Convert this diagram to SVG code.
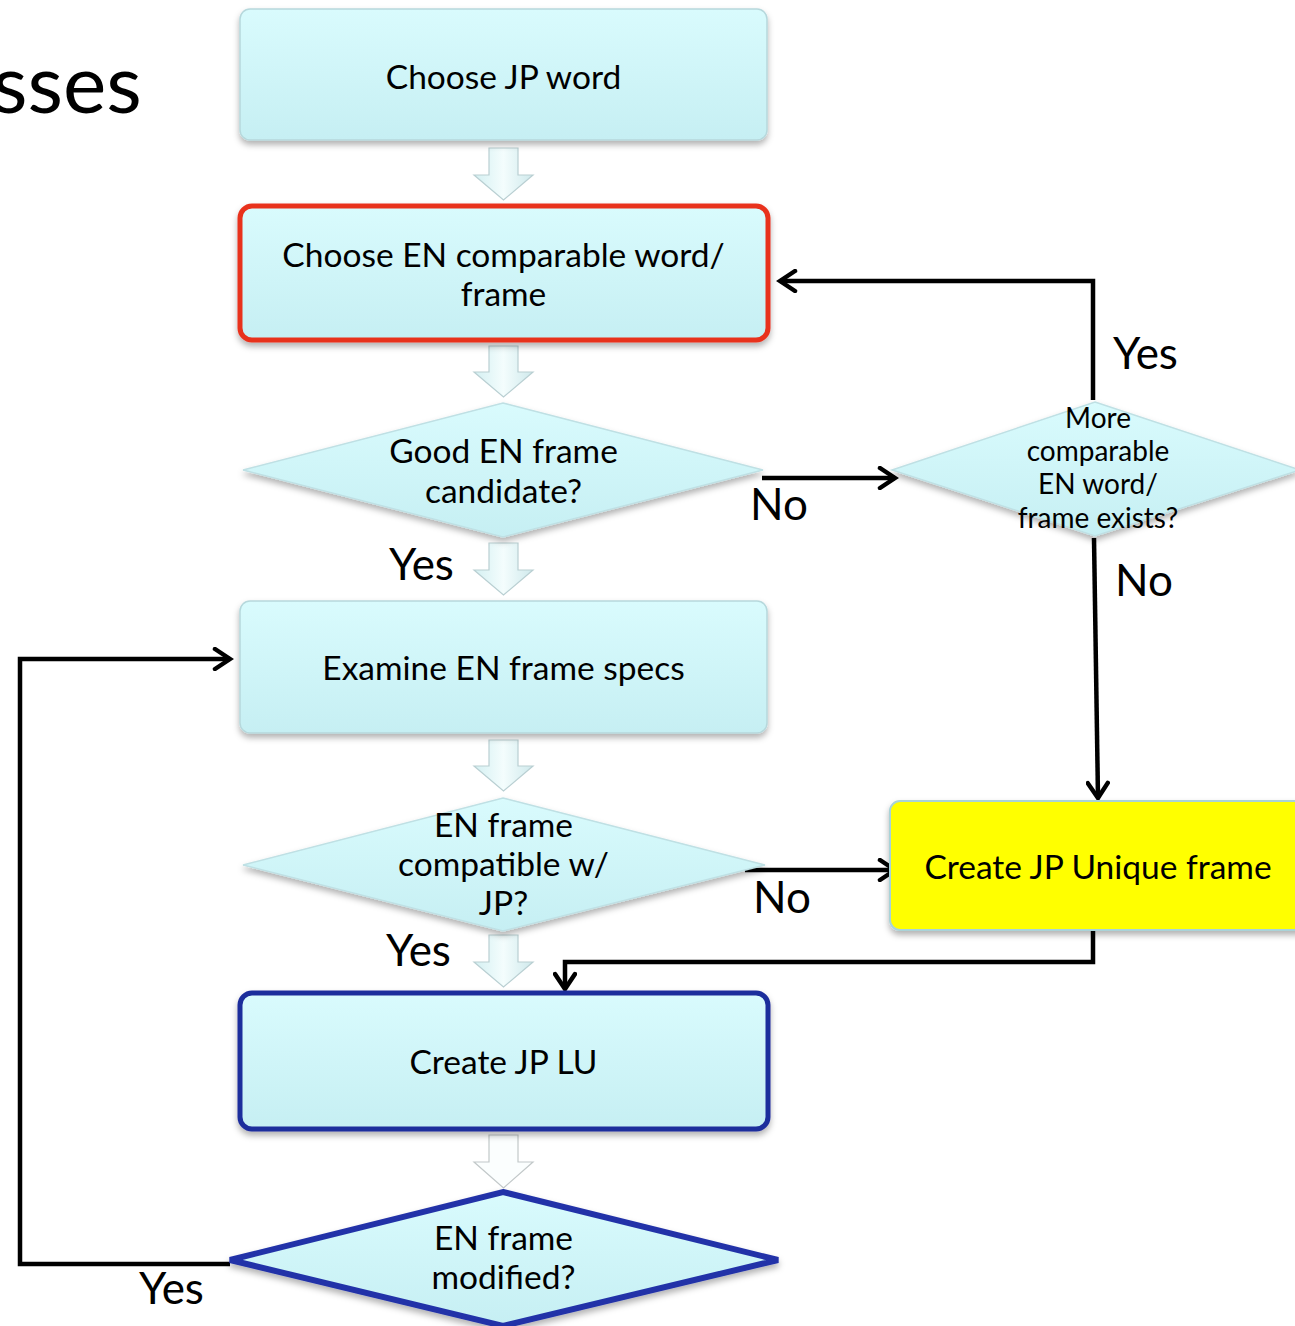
<svg xmlns="http://www.w3.org/2000/svg" width="1295" height="1326" viewBox="0 0 1295 1326">
<style>
.t{font-family:Lato,"Liberation Sans",sans-serif;font-size:33.5px;fill:#000;text-anchor:middle}
.s{font-family:Lato,"Liberation Sans",sans-serif;font-size:28px;fill:#000;text-anchor:middle}
.lbl{font-family:Lato,"Liberation Sans",sans-serif;font-size:44px;fill:#000}
.box{fill:url(#cy);stroke:#b6d8dc;stroke-width:1.5;filter:url(#sh)}
.dia{fill:url(#cy);stroke:#bfe0e4;stroke-width:1.5;filter:url(#sh)}
.ba{fill:url(#ag);stroke:#b9cfd2;stroke-width:1.2}
.con{fill:none;stroke:#000;stroke-width:4.5}
</style>
<defs>
<linearGradient id="cy" x1="0" y1="0" x2="0" y2="1"><stop offset="0" stop-color="#d9fbfd"/><stop offset="1" stop-color="#c6eff3"/></linearGradient>
<linearGradient id="ag" x1="0" y1="0" x2="1" y2="0"><stop offset="0" stop-color="#d4f0f2"/><stop offset="0.5" stop-color="#f4fdfd"/><stop offset="1" stop-color="#cfe9ec"/></linearGradient>
<filter id="sh" x="-10%" y="-10%" width="120%" height="130%"><feDropShadow dx="0" dy="4" stdDeviation="3" flood-color="#000" flood-opacity="0.3"/></filter>
<marker id="ar" markerWidth="22" markerHeight="24" refX="18" refY="12" orient="auto" markerUnits="userSpaceOnUse"><path d="M3,2 L18,12 L3,22" fill="none" stroke="#000" stroke-width="4.5" stroke-linecap="round"/></marker>
</defs>

<text x="-8" y="113" class="lbl" style="font-size:82px">sses</text>

<g id="connectors">
<path class="con" d="M1093,400 V281 H780" marker-end="url(#ar)"/>
<path class="con" d="M762,478 H895" marker-end="url(#ar)"/>
<path class="con" d="M1094,538 L1098,798" marker-end="url(#ar)"/>
<path class="con" d="M745,870 H895" marker-end="url(#ar)"/>
<path class="con" d="M1093,930 V962 H565 V989" marker-end="url(#ar)"/>
<path class="con" d="M230,1264 H20 V659 H230" marker-end="url(#ar)"/>
</g>

<g id="blockarrows">
<path class="ba" d="M489,148 H518 V175 H533 L503.5,200 L474,175 H489 Z"/>
<path class="ba" d="M489,346 H518 V372 H533 L503.5,397 L474,372 H489 Z"/>
<path class="ba" d="M489,543 H518 V570 H533 L503.5,595 L474,570 H489 Z"/>
<path class="ba" d="M489,740 H518 V766 H533 L503.5,791 L474,766 H489 Z"/>
<path class="ba" d="M489,935 H518 V962 H533 L503.5,987 L474,962 H489 Z"/>
<path class="ba" d="M489,1135 H518 V1162 H533 L503.5,1188 L474,1162 H489 Z" style="fill:#fbfefe;stroke:#c2c8c9"/>
</g>

<g id="n1"><rect class="box" x="240" y="9" width="527" height="131" rx="10"/><text class="t" x="503.5" y="89">Choose JP word</text></g>
<g id="n2"><rect class="box" x="240" y="206" width="528" height="134" rx="12" style="stroke:#e8321e;stroke-width:5"/><text class="t" x="503.5" y="267">Choose EN comparable word/</text><text class="t" x="503.5" y="306">frame</text></g>
<g id="n3"><path class="dia" d="M503,403 L763,470 L503,537 L243,470 Z"/><text class="t" x="503.5" y="463">Good EN frame</text><text class="t" x="503.5" y="503">candidate?</text></g>
<g id="n4"><path class="dia" d="M1095,402 L1300,470 L1095,536 L892,470 Z"/><text class="s" x="1098" y="428">More</text><text class="s" x="1098" y="461">comparable</text><text class="s" x="1098" y="494">EN word/</text><text class="s" x="1098" y="528">frame exists?</text></g>
<g id="n5"><rect class="box" x="240" y="601" width="527" height="132" rx="10"/><text class="t" x="503.5" y="680">Examine EN frame specs</text></g>
<g id="n6"><path class="dia" d="M503,798 L765,865 L503,931 L243,865 Z"/><text class="t" x="503.5" y="837">EN frame</text><text class="t" x="503.5" y="876">compatible w/</text><text class="t" x="503.5" y="915">JP?</text></g>
<g id="n7"><rect class="box" x="890" y="801" width="430" height="129" rx="10" style="fill:#ffff00;stroke:#a9d3d8;stroke-width:2"/><text class="t" x="1098" y="879">Create JP Unique frame</text></g>
<g id="n8"><rect class="box" x="240" y="993" width="528" height="136" rx="12" style="stroke:#1e2d9c;stroke-width:5"/><text class="t" x="503.5" y="1074">Create JP LU</text></g>
<g id="n9"><path class="dia" d="M503,1192 L778,1260 L503,1326 L230,1260 Z" style="stroke:#2233a8;stroke-width:6"/><text class="t" x="503.5" y="1250">EN frame</text><text class="t" x="503.5" y="1289">modified?</text></g>

<g id="labels">
<text class="lbl" x="389" y="580">Yes</text>
<text class="lbl" x="386" y="966">Yes</text>
<text class="lbl" x="139" y="1304">Yes</text>
<text class="lbl" x="1113" y="369">Yes</text>
<text class="lbl" x="750" y="520">No</text>
<text class="lbl" x="753" y="913">No</text>
<text class="lbl" x="1115" y="596">No</text>
</g>
</svg>
